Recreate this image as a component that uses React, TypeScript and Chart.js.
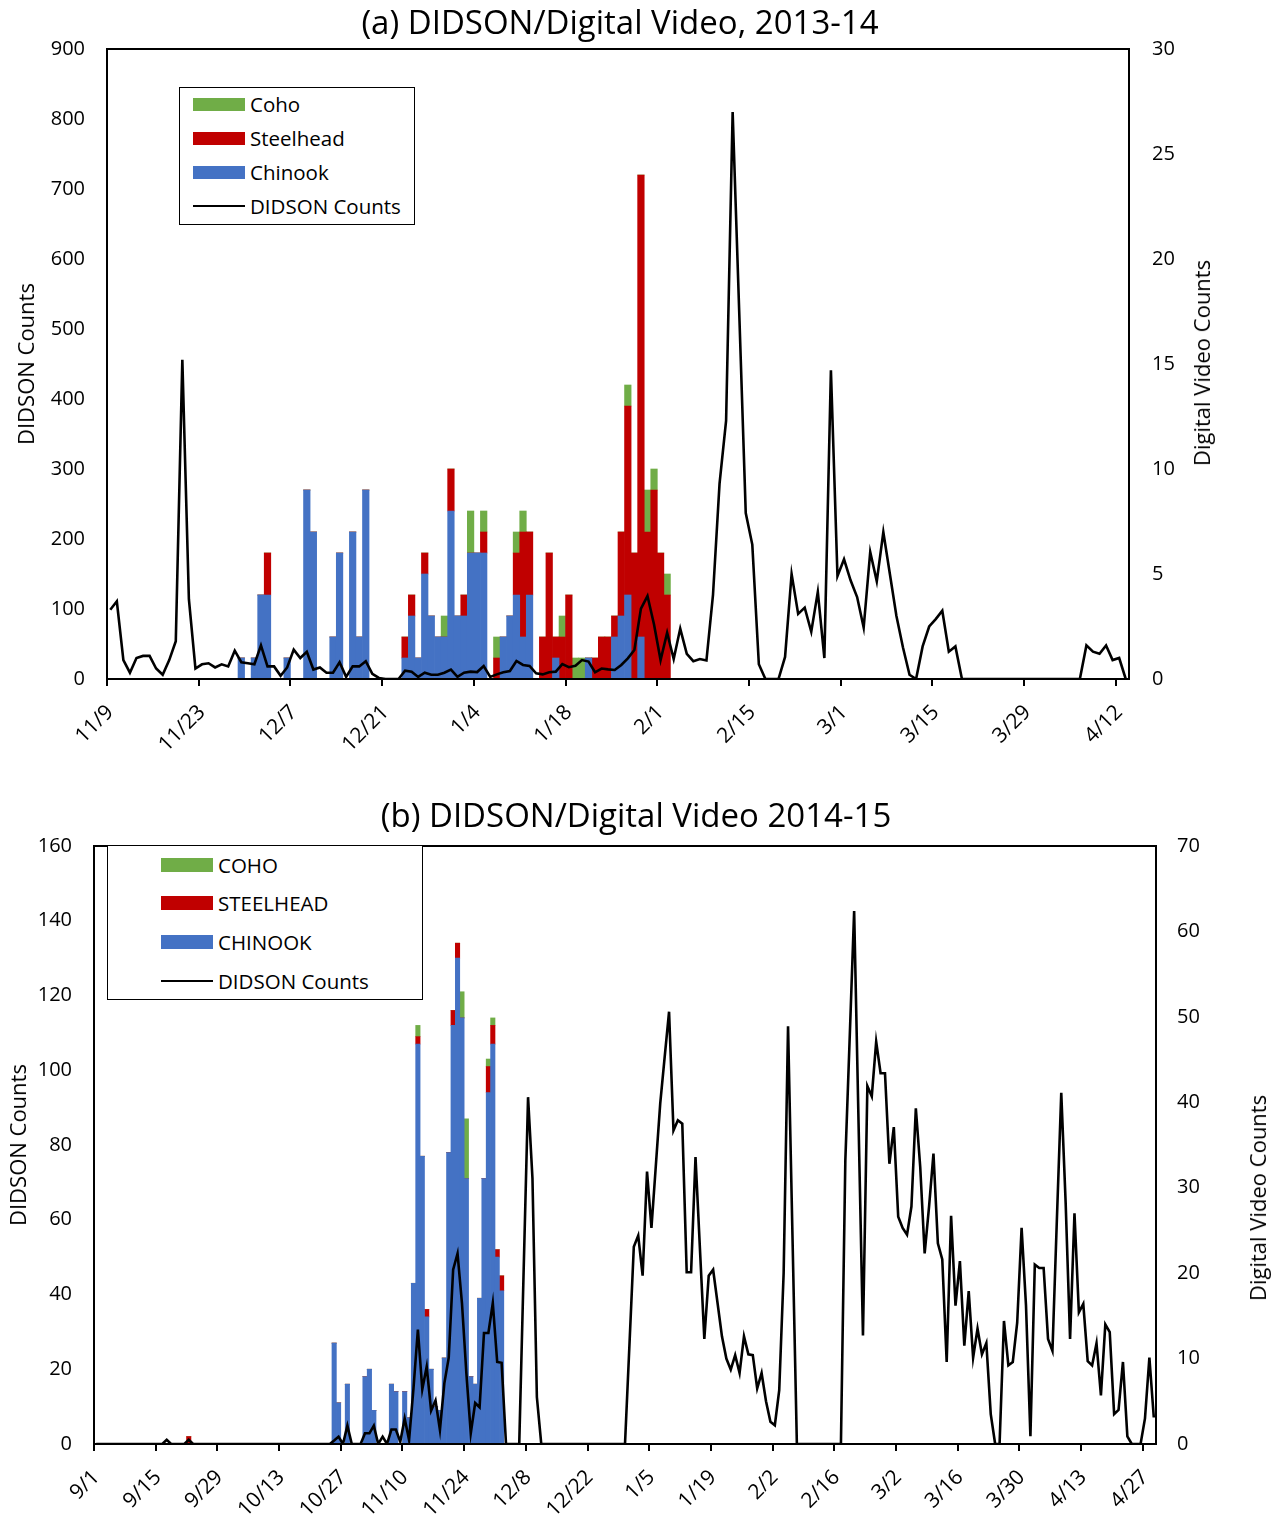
import React, { useEffect, useRef } from "react";
import { Chart, registerables } from "chart.js";
Chart.register(...registerables);

const FONT = "'Open Sans', sans-serif";
const BLUE = "#4472C4";
const RED = "#C00000";
const GREEN = "#70AD47";

function makeDates(y: number, m: number, d: number, n: number): string[] {
  const out: string[] = [];
  for (let k = 0; k < n; k++) {
    const dt = new Date(Date.UTC(y, m - 1, d + k));
    out.push(`${dt.getUTCMonth() + 1}/${dt.getUTCDate()}`);
  }
  return out;
}

// ---------- (a) 2013-14 : daily categories 11/9/2013 .. 4/13/2014 ----------
const datesA = makeDates(2013, 11, 9, 156);

const chinookA = [
  0, 0, 0, 0, 0, 0, 0, 0, 0, 0, 0, 0, 0, 0,
  0, 0, 0, 0, 0, 0, 30, 0, 30, 120, 120, 0, 0, 30,
  0, 0, 270, 210, 0, 0, 60, 180, 0, 210, 60, 270, 0, 0,
  0, 0, 0, 30, 90, 30, 150, 90, 60, 60, 240, 90, 90, 180,
  180, 180, 0, 0, 60, 90, 120, 60, 120, 0, 0, 0, 30, 0,
  0, 0, 0, 30, 0, 0, 0, 60, 90, 120, 0, 60, 0, 0,
  0, 0, 0, 0, 0, 0, 0, 0, 0, 0, 0, 0, 0, 0,
  0, 0, 0, 0, 0, 0, 0, 0, 0, 0, 0, 0, 0, 0,
  0, 0, 0, 0, 0, 0, 0, 0, 0, 0, 0, 0, 0, 0,
  0, 0, 0, 0, 0, 0, 0, 0, 0, 0, 0, 0, 0, 0,
  0, 0, 0, 0, 0, 0, 0, 0, 0, 0, 0, 0, 0, 0,
  0, 0,
];
const steelheadA = [
  0, 0, 0, 0, 0, 0, 0, 0, 0, 0, 0, 0, 0, 0,
  0, 0, 0, 0, 0, 0, 0, 0, 0, 0, 60, 0, 0, 0,
  0, 0, 0, 0, 0, 0, 0, 0, 0, 0, 0, 0, 0, 0,
  0, 0, 0, 30, 30, 0, 30, 0, 0, 0, 60, 0, 30, 0,
  0, 30, 0, 30, 0, 0, 60, 150, 90, 0, 60, 180, 30, 60,
  120, 0, 0, 0, 30, 60, 60, 30, 120, 270, 180, 660, 210, 270,
  180, 120, 0, 0, 0, 0, 0, 0, 0, 0, 0, 0, 0, 0,
  0, 0, 0, 0, 0, 0, 0, 0, 0, 0, 0, 0, 0, 0,
  0, 0, 0, 0, 0, 0, 0, 0, 0, 0, 0, 0, 0, 0,
  0, 0, 0, 0, 0, 0, 0, 0, 0, 0, 0, 0, 0, 0,
  0, 0, 0, 0, 0, 0, 0, 0, 0, 0, 0, 0, 0, 0,
  0, 0,
];
const cohoA = [
  0, 0, 0, 0, 0, 0, 0, 0, 0, 0, 0, 0, 0, 0,
  0, 0, 0, 0, 0, 0, 0, 0, 0, 0, 0, 0, 0, 0,
  0, 0, 0, 0, 0, 0, 0, 0, 0, 0, 0, 0, 0, 0,
  0, 0, 0, 0, 0, 0, 0, 0, 0, 30, 0, 0, 0, 60,
  0, 30, 0, 30, 0, 0, 30, 30, 0, 0, 0, 0, 0, 30,
  0, 30, 30, 0, 0, 0, 0, 0, 0, 30, 0, 0, 60, 30,
  0, 30, 0, 0, 0, 0, 0, 0, 0, 0, 0, 0, 0, 0,
  0, 0, 0, 0, 0, 0, 0, 0, 0, 0, 0, 0, 0, 0,
  0, 0, 0, 0, 0, 0, 0, 0, 0, 0, 0, 0, 0, 0,
  0, 0, 0, 0, 0, 0, 0, 0, 0, 0, 0, 0, 0, 0,
  0, 0, 0, 0, 0, 0, 0, 0, 0, 0, 0, 0, 0, 0,
  0, 0,
];
const videoA = [
  3.3, 3.7, 0.9, 0.3, 1.0, 1.1, 1.1, 0.5, 0.2, 0.9, 1.8, 15.2, 3.8, 0.5,
  0.7, 0.75, 0.55, 0.7, 0.6, 1.35, 0.8, 0.75, 0.7, 1.6, 0.6, 0.6, 0.15, 0.55,
  1.4, 1.0, 1.3, 0.45, 0.55, 0.3, 0.3, 0.8, 0.1, 0.6, 0.6, 0.85, 0.25, 0.05,
  0, 0, 0, 0.4, 0.35, 0.1, 0.3, 0.2, 0.2, 0.3, 0.45, 0.1, 0.3, 0.35,
  0.33, 0.62, 0.1, 0.22, 0.32, 0.38, 0.86, 0.67, 0.62, 0.27, 0.22, 0.32, 0.35, 0.71,
  0.56, 0.63, 0.9, 0.83, 0.32, 0.5, 0.46, 0.43, 0.67, 0.98, 1.38, 3.35, 3.95, 2.6,
  0.9, 2.2, 0.95, 2.4, 1.2, 0.85, 0.95, 0.88, 4.0, 9.3, 12.3, 27.0, 17.5, 7.9,
  6.4, 0.7, 0, 0, 0, 1.05, 5.0, 3.1, 3.4, 2.25, 4.15, 1.0, 14.7, 4.9,
  5.7, 4.7, 3.9, 2.45, 6.05, 4.65, 7.0, 5.0, 3.0, 1.5, 0.2, 0, 1.55, 2.5,
  2.85, 3.25, 1.3, 1.55, 0, 0, 0, 0, 0, 0, 0, 0, 0, 0,
  0, 0, 0, 0, 0, 0, 0, 0, 0, 1.6, 1.3, 1.2, 1.6, 0.9,
  1.0, 0,
];

// ---------- (b) 2014-15 : daily categories 9/1/2014 .. 4/29/2015 ----------
const datesB = makeDates(2014, 9, 1, 241);

const chinookB = [
  0, 0, 0, 0, 0, 0, 0, 0, 0, 0, 0, 0, 0, 0,
  0, 0, 0, 0, 0, 0, 0, 0, 0, 0, 0, 0, 0, 0,
  0, 0, 0, 0, 0, 0, 0, 0, 0, 0, 0, 0, 0, 0,
  0, 0, 0, 0, 0, 0, 0, 0, 0, 0, 0, 0, 27, 11,
  0, 16, 0, 0, 0, 18, 20, 9, 0, 0, 0, 16, 14, 0,
  14, 7, 43, 107, 77, 34, 20, 10, 9, 23, 78, 112, 130, 114,
  71, 18, 16, 39, 71, 94, 107, 50, 41, 0, 0, 0, 0, 0,
  0, 0, 0, 0, 0, 0, 0, 0, 0, 0, 0, 0, 0, 0,
  0, 0, 0, 0, 0, 0, 0, 0, 0, 0, 0, 0, 0, 0,
  0, 0, 0, 0, 0, 0, 0, 0, 0, 0, 0, 0, 0, 0,
  0, 0, 0, 0, 0, 0, 0, 0, 0, 0, 0, 0, 0, 0,
  0, 0, 0, 0, 0, 0, 0, 0, 0, 0, 0, 0, 0, 0,
  0, 0, 0, 0, 0, 0, 0, 0, 0, 0, 0, 0, 0, 0,
  0, 0, 0, 0, 0, 0, 0, 0, 0, 0, 0, 0, 0, 0,
  0, 0, 0, 0, 0, 0, 0, 0, 0, 0, 0, 0, 0, 0,
  0, 0, 0, 0, 0, 0, 0, 0, 0, 0, 0, 0, 0, 0,
  0, 0, 0, 0, 0, 0, 0, 0, 0, 0, 0, 0, 0, 0,
  0, 0, 0,
];
const steelheadB = [
  0, 0, 0, 0, 0, 0, 0, 0, 0, 0, 0, 0, 0, 0,
  0, 0, 0, 0, 0, 0, 0, 2, 0, 0, 0, 0, 0, 0,
  0, 0, 0, 0, 0, 0, 0, 0, 0, 0, 0, 0, 0, 0,
  0, 0, 0, 0, 0, 0, 0, 0, 0, 0, 0, 0, 0, 0,
  0, 0, 0, 0, 0, 0, 0, 0, 0, 0, 0, 0, 0, 0,
  0, 0, 0, 2, 0, 2, 0, 0, 0, 0, 0, 4, 4, 0,
  0, 0, 0, 0, 0, 7, 5, 2, 4, 0, 0, 0, 0, 0,
  0, 0, 0, 0, 0, 0, 0, 0, 0, 0, 0, 0, 0, 0,
  0, 0, 0, 0, 0, 0, 0, 0, 0, 0, 0, 0, 0, 0,
  0, 0, 0, 0, 0, 0, 0, 0, 0, 0, 0, 0, 0, 0,
  0, 0, 0, 0, 0, 0, 0, 0, 0, 0, 0, 0, 0, 0,
  0, 0, 0, 0, 0, 0, 0, 0, 0, 0, 0, 0, 0, 0,
  0, 0, 0, 0, 0, 0, 0, 0, 0, 0, 0, 0, 0, 0,
  0, 0, 0, 0, 0, 0, 0, 0, 0, 0, 0, 0, 0, 0,
  0, 0, 0, 0, 0, 0, 0, 0, 0, 0, 0, 0, 0, 0,
  0, 0, 0, 0, 0, 0, 0, 0, 0, 0, 0, 0, 0, 0,
  0, 0, 0, 0, 0, 0, 0, 0, 0, 0, 0, 0, 0, 0,
  0, 0, 0,
];
const cohoB = [
  0, 0, 0, 0, 0, 0, 0, 0, 0, 0, 0, 0, 0, 0,
  0, 0, 0, 0, 0, 0, 0, 0, 0, 0, 0, 0, 0, 0,
  0, 0, 0, 0, 0, 0, 0, 0, 0, 0, 0, 0, 0, 0,
  0, 0, 0, 0, 0, 0, 0, 0, 0, 0, 0, 0, 0, 0,
  0, 0, 0, 0, 0, 0, 0, 0, 0, 0, 0, 0, 0, 0,
  0, 0, 0, 3, 0, 0, 0, 0, 0, 0, 0, 0, 0, 7,
  16, 0, 0, 0, 0, 2, 2, 0, 0, 0, 0, 0, 0, 0,
  0, 0, 0, 0, 0, 0, 0, 0, 0, 0, 0, 0, 0, 0,
  0, 0, 0, 0, 0, 0, 0, 0, 0, 0, 0, 0, 0, 0,
  0, 0, 0, 0, 0, 0, 0, 0, 0, 0, 0, 0, 0, 0,
  0, 0, 0, 0, 0, 0, 0, 0, 0, 0, 0, 0, 0, 0,
  0, 0, 0, 0, 0, 0, 0, 0, 0, 0, 0, 0, 0, 0,
  0, 0, 0, 0, 0, 0, 0, 0, 0, 0, 0, 0, 0, 0,
  0, 0, 0, 0, 0, 0, 0, 0, 0, 0, 0, 0, 0, 0,
  0, 0, 0, 0, 0, 0, 0, 0, 0, 0, 0, 0, 0, 0,
  0, 0, 0, 0, 0, 0, 0, 0, 0, 0, 0, 0, 0, 0,
  0, 0, 0, 0, 0, 0, 0, 0, 0, 0, 0, 0, 0, 0,
  0, 0, 0,
];
const videoB = [
  0, 0, 0, 0, 0, 0, 0, 0, 0, 0, 0, 0, 0, 0,
  0, 0, 0.5, 0, 0, 0, 0, 0.5, 0, 0, 0, 0, 0, 0,
  0, 0, 0, 0, 0, 0, 0, 0, 0, 0, 0, 0, 0, 0,
  0, 0, 0, 0, 0, 0, 0, 0, 0, 0, 0, 0, 0.4, 0.86,
  0, 2.15, 0, 0, 0, 1.25, 1.25, 2.15, 0, 0.86, 0, 1.7, 1.7, 0.27,
  3.0, 0.47, 6.5, 13.4, 6.4, 9.05, 3.9, 5.1, 1.65, 7.1, 10.1, 20.4, 22.3, 16.5,
  8.3, 1.25, 4.8, 4.3, 13.0, 13.0, 16.5, 9.6, 9.5, 0, 0, 0, 0, 20.3,
  40.6, 31.1, 5.5, 0, 0, 0, 0, 0, 0, 0, 0, 0, 0, 0,
  0, 0, 0, 0, 0, 0, 0, 0, 0, 11.5, 23.1, 24.4, 19.7, 31.9,
  25.3, 32.6, 39.9, 45.3, 50.6, 36.7, 37.9, 37.5, 20.1, 20.1, 33.6, 22.9, 12.3, 19.7,
  20.4, 16.5, 12.6, 10.0, 8.7, 10.4, 8.3, 12.6, 10.5, 10.4, 6.5, 8.3, 5.0, 2.6,
  2.2, 6.3, 20.0, 48.9, 24.5, 0, 0, 0, 0, 0, 0, 0, 0, 0,
  0, 0, 33.2, 47.7, 62.4, 37.6, 12.7, 41.9, 40.7, 47.1, 43.4, 43.4, 32.8, 37.1,
  26.6, 25.3, 24.5, 27.8, 39.3, 32.4, 22.3, 27.8, 34.0, 23.5, 21.6, 9.6, 26.7, 16.2,
  21.4, 11.5, 17.9, 10.1, 13.5, 10.5, 11.8, 3.5, 0, 0, 14.4, 9.2, 9.6, 14.2,
  25.3, 16.2, 0.9, 21.0, 20.6, 20.6, 12.3, 10.9, 26.2, 41.1, 28.2, 12.3, 27.0, 15.4,
  16.4, 9.7, 9.2, 11.8, 5.7, 14.0, 13.1, 3.5, 4.0, 9.6, 0.9, 0, 0, 0,
  3.0, 10.1, 3.1,
];

const TICK_EVERY = 14;

const framePlugin = {
  id: "frame",
  afterDraw(chart: any) {
    const { ctx, chartArea: a } = chart;
    ctx.save();
    ctx.strokeStyle = "#000";
    ctx.lineWidth = 2;
    ctx.strokeRect(a.left, a.top, a.right - a.left, a.bottom - a.top);
    ctx.restore();
  },
};

interface Cfg {
  labels: string[];
  chinook: number[];
  steelhead: number[];
  coho: number[];
  video: number[];
  yMax: number;
  yStep: number;
  y2Max: number;
  y2Step: number;
  padTop: number;
  yWidth: number;
  y2Width: number;
  xHeight: number;
  yPad: number;
  y2Pad: number;
}

function makeConfig(c: Cfg): any {
  const n = c.labels.length;
  const bar = (label: string, data: number[], color: string) => ({
    type: "bar",
    label,
    data,
    backgroundColor: color,
    borderWidth: 0,
    barPercentage: 1,
    categoryPercentage: 1,
    yAxisID: "y",
    stack: "fish",
    order: 1,
  });
  return {
    type: "bar",
    data: {
      labels: c.labels,
      datasets: [
        {
          type: "line",
          label: "DIDSON Counts",
          data: c.video,
          borderColor: "#000",
          borderWidth: 2.6,
          pointRadius: 0,
          tension: 0,
          fill: false,
          yAxisID: "y2",
          order: 0,
        },
        bar("Chinook", c.chinook, BLUE),
        bar("Steelhead", c.steelhead, RED),
        bar("Coho", c.coho, GREEN),
      ],
    },
    options: {
      animation: false,
      responsive: false,
      devicePixelRatio: 1,
      layout: { padding: { top: c.padTop, left: 0, right: 0, bottom: 0 } },
      plugins: { legend: { display: false }, tooltip: { enabled: false }, title: { display: false } },
      scales: {
        x: {
          type: "category",
          offset: true,
          stacked: true,
          border: { display: false },
          grid: {
            offset: true,
            drawOnChartArea: false,
            drawTicks: true,
            tickLength: 7,
            lineWidth: 2,
            color: (ctx: any) =>
              ctx.index % TICK_EVERY === 0 && ctx.index < n ? "#000" : "rgba(0,0,0,0)",
          },
          ticks: {
            autoSkip: false,
            minRotation: 45,
            maxRotation: 45,
            padding: 14,
            color: "#000",
            font: { family: FONT, size: 21 },
            callback: (_v: any, i: number) => (i % TICK_EVERY === 0 ? c.labels[i] : ""),
          },
          afterFit: (s: any) => {
            s.height = c.xHeight;
          },
        },
        y: {
          position: "left",
          stacked: true,
          min: 0,
          max: c.yMax,
          border: { display: false },
          grid: { display: false, drawTicks: false },
          ticks: {
            stepSize: c.yStep,
            padding: c.yPad,
            color: "#000",
            font: { family: FONT, size: 20 },
          },
          afterFit: (s: any) => {
            s.width = c.yWidth;
          },
        },
        y2: {
          position: "right",
          stacked: false,
          min: 0,
          max: c.y2Max,
          border: { display: false },
          grid: { display: false, drawTicks: false },
          ticks: {
            stepSize: c.y2Step,
            padding: c.y2Pad,
            color: "#000",
            font: { family: FONT, size: 20 },
          },
          afterFit: (s: any) => {
            s.width = c.y2Width;
          },
        },
      },
    },
    plugins: [framePlugin],
  };
}

interface LegendRow {
  label: string;
  color: string;
  kind: "box" | "line";
  y: number;
}

function Legend(props: {
  left: number;
  top: number;
  width: number;
  height: number;
  swatchLeft: number;
  swatchH: number;
  textLeft: number;
  rows: LegendRow[];
}) {
  const { left, top, width, height, swatchLeft, swatchH, textLeft, rows } = props;
  return (
    <>
      <div
        style={{
          position: "absolute",
          left,
          top,
          width,
          height,
          border: "1.5px solid #000",
          boxSizing: "border-box",
          background: "#fff",
        }}
      />
      {rows.map((r) => (
        <React.Fragment key={r.label}>
          <div
            style={{
              position: "absolute",
              left: swatchLeft,
              top: r.kind === "box" ? r.y - swatchH / 2 : r.y - 1,
              width: 52,
              height: r.kind === "box" ? swatchH : 2,
              background: r.color,
            }}
          />
          <div
            style={{
              position: "absolute",
              left: textLeft,
              top: r.y - 12,
              fontSize: 20.5,
              lineHeight: "24px",
              whiteSpace: "nowrap",
              fontFamily: FONT,
            }}
          >
            {r.label}
          </div>
        </React.Fragment>
      ))}
    </>
  );
}

function Title(props: { text: string; cx: number; baseline: number }) {
  const fs = 33;
  return (
    <div
      style={{
        position: "absolute",
        left: props.cx - 400,
        width: 800,
        top: props.baseline - 0.888 * fs,
        textAlign: "center",
        fontSize: fs,
        lineHeight: `${fs}px`,
        whiteSpace: "nowrap",
        fontFamily: FONT,
      }}
    >
      {props.text}
    </div>
  );
}

function AxisTitle(props: { text: string; cx: number; cy: number }) {
  return (
    <div
      style={{
        position: "absolute",
        left: props.cx,
        top: props.cy,
        transform: "translate(-50%, -50%) rotate(-90deg)",
        fontSize: 22,
        lineHeight: "22px",
        whiteSpace: "nowrap",
        fontFamily: FONT,
      }}
    >
      {props.text}
    </div>
  );
}

export default function App() {
  const refA = useRef<HTMLCanvasElement>(null);
  const refB = useRef<HTMLCanvasElement>(null);

  useEffect(() => {
    const chartA = new Chart(
      refA.current as HTMLCanvasElement,
      makeConfig({
        labels: datesA,
        chinook: chinookA,
        steelhead: steelheadA,
        coho: cohoA,
        video: videoA,
        yMax: 900,
        yStep: 100,
        y2Max: 30,
        y2Step: 5,
        padTop: 49,
        yWidth: 107,
        y2Width: 151,
        xHeight: 91,
        yPad: 22,
        y2Pad: 23,
      })
    );
    const chartB = new Chart(
      refB.current as HTMLCanvasElement,
      makeConfig({
        labels: datesB,
        chinook: chinookB,
        steelhead: steelheadB,
        coho: cohoB,
        video: videoB,
        yMax: 160,
        yStep: 20,
        y2Max: 70,
        y2Step: 10,
        padTop: 76,
        yWidth: 94,
        y2Width: 124,
        xHeight: 72,
        yPad: 22,
        y2Pad: 21,
      })
    );
    return () => {
      chartA.destroy();
      chartB.destroy();
    };
  }, []);

  return (
    <div
      style={{
        position: "absolute",
        left: 0,
        top: 0,
        width: 1280,
        height: 1516,
        background: "#fff",
        color: "#000",
        fontFamily: FONT,
        overflow: "hidden",
      }}
    >
      <canvas
        ref={refA}
        width={1280}
        height={770}
        style={{ position: "absolute", left: 0, top: 0, width: 1280, height: 770 }}
      />
      <canvas
        ref={refB}
        width={1280}
        height={746}
        style={{ position: "absolute", left: 0, top: 770, width: 1280, height: 746 }}
      />

      <Title text="(a) DIDSON/Digital Video, 2013-14" cx={620} baseline={34} />
      <Title text="(b) DIDSON/Digital Video 2014-15" cx={636} baseline={827} />

      <AxisTitle text="DIDSON Counts" cx={25} cy={364} />
      <AxisTitle text="Digital Video Counts" cx={1201} cy={363} />
      <AxisTitle text="DIDSON Counts" cx={17} cy={1145} />
      <AxisTitle text="Digital Video Counts" cx={1257} cy={1198} />

      <Legend
        left={179}
        top={87}
        width={236}
        height={138}
        swatchLeft={193}
        swatchH={13}
        textLeft={250}
        rows={[
          { label: "Coho", color: GREEN, kind: "box", y: 104 },
          { label: "Steelhead", color: RED, kind: "box", y: 138 },
          { label: "Chinook", color: BLUE, kind: "box", y: 172 },
          { label: "DIDSON Counts", color: "#000", kind: "line", y: 206 },
        ]}
      />
      <Legend
        left={107}
        top={845}
        width={316}
        height={155}
        swatchLeft={161}
        swatchH={14}
        textLeft={218}
        rows={[
          { label: "COHO", color: GREEN, kind: "box", y: 865 },
          { label: "STEELHEAD", color: RED, kind: "box", y: 903 },
          { label: "CHINOOK", color: BLUE, kind: "box", y: 942 },
          { label: "DIDSON Counts", color: "#000", kind: "line", y: 981 },
        ]}
      />
    </div>
  );
}
